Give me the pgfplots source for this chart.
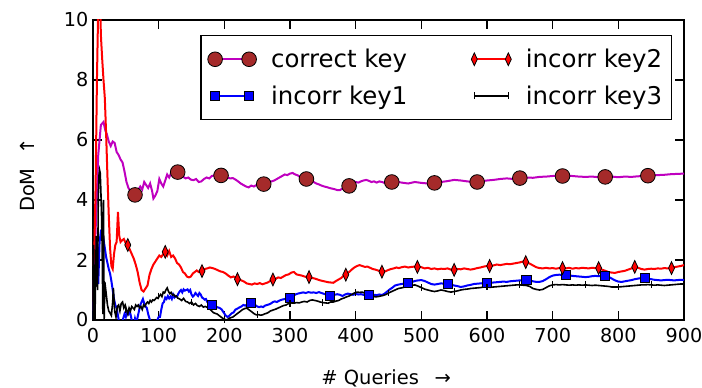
\documentclass[border=0pt]{standalone}
\usepackage{fontspec}
\setmainfont{DejaVu Sans}
\usepackage{pgfplots}
\pgfplotsset{compat=1.18}
\definecolor{mmag}{RGB}{191,0,191}
\definecolor{mbrown}{RGB}{165,42,42}
\begin{document}
\begin{tikzpicture}
\useasboundingbox (-69.75pt,-51pt) rectangle (456.75pt,240pt);
\begin{axis}[
  scale only axis, width=443.25pt, height=225pt,
  xmin=0, xmax=900, ymin=0, ymax=10,
  xtick={0,100,...,900}, ytick={0,2,...,10},
  tick align=inside, xtick pos=both, ytick pos=both,
  xticklabel pos=bottom, yticklabel pos=left,
  major tick length=7pt,
  tick style={black, line width=0.8pt},
  axis line style={black, line width=1pt},
  /pgf/number format/assume math mode=true,
  ticklabel style={font=\fontsize{14.4}{16}\selectfont},
  xticklabel style={yshift=-3pt},
  xlabel={\# Queries\hspace{0.8em}→},
  ylabel={DoM\hspace{0.7em}↑},
  label style={font=\fontsize{14.6}{17}\selectfont},
  xlabel style={at={(rel axis cs:0.496,-0.193)}, anchor=center},
  ylabel style={at={(rel axis cs:-0.11,0.483)}, anchor=center},
  legend columns=2,
  legend cell align=left,
  legend image code/.code={\draw[#1] plot coordinates {(0pt,0pt) (25.5pt,0pt)};},
  legend style={at={(rel axis cs:0.98,0.95)}, anchor=north east, draw=black, line width=1pt,
    font=\fontsize{18.3}{21}\selectfont, inner xsep=5pt, inner ysep=8pt,
    /tikz/every odd column/.append style={column sep=9pt},
    /tikz/every even column/.append style={column sep=46pt},
    /tikz/row sep=8pt},
]
% correct key
\addplot[mmag, line width=1.5pt, forget plot] coordinates {
(0,0.3)(4,3)(8,5.5)(12,6.5)(16,6.6)(19,6.3)(21,6.2)(24,5.95)(27,5.8)(30,5.95)(33,5.9)(36,5.6)(39,5.5)(42,5.35)(45,5.25)(48,4.95)(51,4.6)(54,4.4)(57,4.3)(60,4.25)(64,4.17)(68,4.3)(72,4.45)(75,4.35)(78,4.6)(81,4.5)(84,4.4)(87,4.55)(90,4.3)(92,4.05)(95,4.15)(98,4.3)(101,4.7)(104,4.55)(107,4.45)(110,4.65)(113,4.85)(116,4.75)(119,4.9)(122,4.95)(126,4.9)(129,4.93)(133,4.85)(137,4.78)(141,4.72)(145,4.75)(149,4.68)(153,4.66)(157,4.7)(161,4.6)(165,4.62)(169,4.7)(173,4.75)(177,4.72)(181,4.8)(185,4.82)(189,4.85)(193,4.83)(197,4.8)(201,4.78)(205,4.75)(209,4.72)(213,4.73)(217,4.68)(221,4.62)(225,4.55)(229,4.5)(233,4.45)(237,4.42)(241,4.48)(245,4.45)(249,4.5)(253,4.55)(257,4.52)(260,4.53)(264,4.58)(268,4.6)(272,4.62)(276,4.65)(280,4.7)(284,4.75)(288,4.8)(292,4.85)(296,4.83)(300,4.88)(304,4.9)(308,4.85)(312,4.82)(316,4.75)(320,4.72)(324,4.7)(328,4.68)(332,4.62)(336,4.6)(340,4.55)(344,4.52)(348,4.48)(352,4.45)(356,4.43)(360,4.4)(364,4.38)(368,4.36)(372,4.33)(376,4.33)(380,4.38)(384,4.42)(388,4.45)(392,4.5)(396,4.55)(400,4.6)(404,4.58)(408,4.62)(412,4.65)(416,4.67)(420,4.64)(424,4.6)(428,4.62)(432,4.58)(436,4.62)(440,4.6)(444,4.57)(448,4.6)(452,4.62)(456,4.6)(460,4.62)(470,4.58)(480,4.55)(490,4.6)(500,4.57)(510,4.55)(520,4.57)(530,4.6)(540,4.63)(550,4.67)(560,4.65)(570,4.62)(580,4.6)(590,4.62)(600,4.65)(610,4.67)(620,4.7)(630,4.72)(640,4.7)(650,4.73)(660,4.75)(670,4.74)(680,4.77)(690,4.78)(700,4.8)(710,4.8)(720,4.82)(730,4.8)(740,4.78)(750,4.77)(760,4.78)(770,4.76)(780,4.77)(790,4.78)(800,4.76)(810,4.78)(820,4.77)(830,4.79)(840,4.8)(850,4.82)(860,4.83)(870,4.84)(880,4.86)(890,4.87)(900,4.88)
};
\addplot[only marks, mark=*, mark size=5.5pt, mark options={fill=mbrown, draw=black, line width=0.6pt}, forget plot] coordinates {
(64,4.17)(129,4.93)(195,4.82)(260,4.53)(325,4.7)(390,4.47)(455,4.6)(520,4.57)(585,4.6)(650,4.73)(715,4.8)(780,4.77)(845,4.81)
};
% incorr key1
\addplot[blue, line width=1.5pt, forget plot] coordinates {
(0,0.0)(2,0.8)(4,1.8)(6,2.5)(8,1.2)(10,2.6)(12,2.95)(14,2.9)(16,2.7)(18,2.4)(20,2.1)(22,1.9)(24,1.7)(26,1.55)(28,1.3)(30,1.0)(32,0.7)(34,0.5)(36,0.4)(38,0.15)(40,-0.1)(42,-0.3)(44,-0.2)(46,0.05)(48,0.2)(50,0.1)(52,0.25)(54,0.2)(56,0.3)(58,0.1)(60,-0.1)(62,-0.2)(64,0.05)(66,-0.1)(68,0.1)(70,0.3)(72,0.5)(74,0.6)(76,0.7)(78,0.55)(80,0.45)(82,0.4)(84,0.2)(86,0.05)(88,-0.1)(90,-0.2)(92,-0.15)(94,-0.05)(96,-0.1)(98,0.0)(100,0.1)(102,0.1)(104,0.35)(106,0.55)(108,0.6)(110,0.75)(112,0.7)(114,0.8)(116,0.72)(118,0.78)(120,0.7)(122,0.85)(124,0.75)(126,0.8)(128,0.78)(130,0.88)(132,0.95)(134,1.0)(136,0.92)(138,1.02)(140,0.98)(142,1.0)(144,1.02)(146,0.95)(148,1.0)(150,0.85)(152,0.78)(154,0.82)(156,0.9)(158,0.85)(160,0.8)(162,0.9)(164,0.85)(166,0.75)(168,0.72)(170,0.68)(172,0.7)(174,0.6)(176,0.55)(178,0.52)(181,0.5)(184,0.47)(187,0.45)(190,0.42)(193,0.4)(196,0.35)(199,0.25)(202,0.15)(205,0.1)(208,0.15)(211,0.22)(214,0.25)(217,0.35)(220,0.38)(223,0.42)(226,0.45)(229,0.5)(232,0.48)(235,0.52)(238,0.55)(241,0.57)(244,0.55)(247,0.5)(250,0.45)(253,0.43)(256,0.45)(259,0.43)(262,0.48)(265,0.5)(268,0.52)(271,0.55)(274,0.6)(277,0.62)(280,0.6)(284,0.65)(288,0.68)(292,0.7)(296,0.72)(300,0.73)(304,0.78)(308,0.85)(312,0.88)(316,0.9)(320,0.92)(324,0.9)(328,0.93)(332,0.91)(336,0.92)(340,0.9)(344,0.93)(348,0.9)(352,0.87)(356,0.85)(360,0.8)(364,0.82)(368,0.84)(372,0.86)(376,0.84)(380,0.8)(384,0.85)(388,0.88)(392,0.86)(396,0.84)(400,0.87)(404,0.85)(408,0.86)(412,0.84)(416,0.85)(420,0.83)(424,0.82)(428,0.84)(432,0.83)(436,0.85)(440,0.83)(444,0.88)(448,0.95)(452,1.02)(456,1.08)(460,1.15)(465,1.18)(470,1.2)(475,1.22)(480,1.23)(485,1.26)(490,1.3)(495,1.32)(500,1.33)(505,1.3)(510,1.25)(515,1.2)(520,1.18)(525,1.2)(530,1.22)(535,1.21)(540,1.2)(545,1.18)(550,1.15)(555,1.13)(560,1.1)(565,1.12)(570,1.15)(575,1.17)(580,1.2)(585,1.21)(590,1.22)(595,1.23)(600,1.23)(605,1.24)(610,1.25)(615,1.26)(620,1.27)(625,1.28)(630,1.27)(635,1.29)(640,1.3)(645,1.31)(650,1.32)(655,1.33)(660,1.33)(665,1.31)(670,1.29)(675,1.27)(680,1.27)(685,1.3)(690,1.36)(695,1.43)(700,1.48)(705,1.5)(710,1.51)(715,1.5)(720,1.5)(725,1.49)(730,1.47)(735,1.46)(740,1.45)(745,1.44)(750,1.43)(755,1.44)(760,1.46)(765,1.47)(770,1.46)(775,1.47)(780,1.47)(785,1.44)(790,1.38)(795,1.32)(800,1.28)(805,1.27)(810,1.29)(815,1.31)(820,1.33)(825,1.36)(830,1.38)(835,1.4)(840,1.4)(845,1.38)(850,1.36)(855,1.34)(860,1.33)(865,1.32)(870,1.33)(875,1.34)(880,1.33)(885,1.32)(890,1.33)(895,1.34)(900,1.33)
};
\addplot[only marks, mark=square*, mark size=3.4pt, mark options={fill=blue, draw=black, line width=0.6pt}, forget plot] coordinates {
(181,0.5)(241,0.57)(300,0.73)(361,0.8)(420,0.83)(480,1.23)(540,1.2)(600,1.23)(660,1.33)(720,1.5)(780,1.47)(840,1.4)
};
% incorr key2
\addplot[red, line width=1.5pt, forget plot] coordinates {
(0,1.8)(2,2.3)(4,4.5)(6,8.0)(8,10.5)(10,11.5)(12,9.5)(14,8.7)(16,8.0)(18,7.4)(20,6.2)(22,4.8)(24,3.5)(26,2.4)(28,1.8)(30,1.7)(32,2.2)(34,2.5)(36,2.6)(38,3.6)(40,2.8)(42,2.6)(44,2.65)(47,2.7)(50,2.55)(53,2.5)(56,2.35)(59,2.2)(62,2.05)(65,1.85)(68,1.6)(71,1.25)(74,1.0)(77,0.95)(80,1.05)(83,1.15)(86,1.5)(89,1.7)(92,1.85)(95,1.95)(98,2.05)(101,2.15)(104,2.1)(107,2.2)(110,2.27)(113,2.15)(116,2.3)(119,2.1)(122,2.15)(125,2.05)(128,1.9)(131,1.85)(134,1.75)(137,1.6)(140,1.55)(143,1.45)(146,1.42)(149,1.45)(152,1.55)(155,1.6)(158,1.65)(161,1.6)(164,1.62)(167,1.63)(170,1.7)(174,1.72)(178,1.75)(182,1.73)(186,1.7)(190,1.66)(194,1.62)(198,1.6)(202,1.55)(206,1.48)(210,1.42)(214,1.45)(218,1.4)(222,1.35)(226,1.32)(230,1.28)(234,1.22)(238,1.2)(242,1.18)(246,1.22)(250,1.2)(254,1.23)(258,1.19)(262,1.22)(266,1.25)(270,1.3)(274,1.35)(278,1.37)(282,1.42)(286,1.4)(290,1.45)(294,1.5)(298,1.52)(302,1.58)(306,1.6)(310,1.52)(314,1.5)(318,1.48)(322,1.45)(326,1.43)(330,1.43)(334,1.4)(338,1.38)(342,1.35)(346,1.32)(350,1.3)(354,1.28)(358,1.26)(362,1.25)(366,1.24)(370,1.3)(374,1.35)(378,1.4)(382,1.48)(386,1.52)(390,1.6)(394,1.68)(398,1.75)(402,1.8)(406,1.83)(410,1.8)(414,1.77)(418,1.78)(422,1.74)(426,1.7)(430,1.68)(434,1.65)(438,1.62)(442,1.6)(446,1.63)(450,1.67)(454,1.7)(458,1.72)(462,1.75)(466,1.73)(470,1.76)(475,1.78)(480,1.75)(485,1.77)(490,1.78)(495,1.77)(500,1.76)(505,1.72)(510,1.74)(515,1.7)(520,1.72)(525,1.69)(530,1.71)(535,1.7)(540,1.72)(545,1.68)(550,1.67)(555,1.7)(560,1.69)(565,1.72)(570,1.7)(575,1.68)(580,1.7)(585,1.73)(590,1.75)(595,1.78)(600,1.8)(605,1.8)(610,1.82)(615,1.85)(620,1.83)(625,1.85)(630,1.87)(635,1.86)(640,1.88)(645,1.9)(650,1.92)(655,1.95)(660,1.93)(665,1.88)(670,1.82)(675,1.76)(680,1.73)(685,1.72)(690,1.74)(695,1.72)(700,1.73)(705,1.71)(710,1.73)(715,1.73)(720,1.72)(725,1.74)(730,1.71)(735,1.73)(740,1.72)(745,1.74)(750,1.73)(755,1.72)(760,1.74)(765,1.73)(770,1.73)(775,1.68)(780,1.64)(785,1.6)(790,1.58)(795,1.57)(800,1.6)(805,1.62)(810,1.64)(815,1.68)(820,1.72)(825,1.77)(830,1.74)(835,1.7)(840,1.68)(845,1.7)(850,1.71)(855,1.7)(860,1.72)(865,1.71)(870,1.73)(875,1.72)(880,1.73)(885,1.76)(890,1.78)(895,1.8)(900,1.83)
};
\addplot[only marks, mark=diamond*, mark size=4.8pt, mark options={xscale=0.62, fill=red, draw=black, line width=0.6pt}, forget plot] coordinates {
(53,2.5)(110,2.27)(166,1.63)(220,1.36)(274,1.35)(329,1.43)(385,1.51)(440,1.61)(494,1.77)(550,1.67)(604,1.8)(659,1.93)(715,1.73)(770,1.73)(825,1.77)(881,1.73)
};
% incorr key3
\addplot[black, line width=1.2pt, forget plot] coordinates {
(0,0.0)(1,2.5)(2,0.5)(3,0.0)(4,1.5)(5,2.8)(6,2.6)(7,1.0)(8,4.0)(9,4.8)(10,5.0)(11,4.9)(12,4.3)(13,3.5)(14,2.4)(15,0.2)(16,4.0)(17,0.0)(18,1.27)(20,0.9)(22,0.5)(24,0.3)(26,0.23)(28,0.15)(30,0.6)(31,1.07)(33,0.3)(35,0.1)(37,0.45)(39,0.5)(41,0.3)(43,0.55)(45,0.6)(47,0.4)(49,0.5)(51,0.35)(53,0.2)(55,0.4)(57,0.3)(59,0.45)(61,0.4)(63,0.35)(65,0.5)(67,0.45)(69,0.5)(71,0.4)(73,0.45)(75,0.35)(77,0.5)(79,0.45)(81,0.55)(83,0.6)(85,0.55)(87,0.65)(89,0.6)(91,0.67)(93,0.65)(95,0.7)(97,0.75)(99,0.72)(101,0.8)(103,0.85)(105,0.78)(107,0.93)(109,0.9)(111,1.0)(113,1.07)(115,0.95)(117,0.88)(119,0.92)(121,0.83)(123,0.85)(125,0.78)(127,0.8)(129,0.73)(132,0.7)(135,0.65)(138,0.72)(141,0.62)(144,0.6)(147,0.55)(150,0.6)(153,0.5)(156,0.55)(159,0.48)(162,0.45)(165,0.5)(168,0.43)(171,0.45)(174,0.42)(177,0.38)(180,0.32)(183,0.25)(186,0.22)(189,0.2)(192,0.15)(195,0.1)(198,0.05)(201,0.02)(204,0.0)(207,0.05)(210,0.08)(213,0.1)(216,0.15)(219,0.2)(222,0.25)(225,0.3)(228,0.35)(231,0.38)(234,0.4)(237,0.35)(240,0.3)(243,0.25)(246,0.2)(249,0.17)(252,0.18)(255,0.16)(258,0.17)(261,0.2)(264,0.22)(267,0.25)(270,0.3)(274,0.33)(278,0.36)(282,0.4)(286,0.44)(290,0.48)(294,0.5)(298,0.55)(302,0.57)(306,0.56)(310,0.58)(314,0.57)(318,0.6)(322,0.62)(326,0.6)(330,0.65)(334,0.67)(338,0.65)(342,0.63)(346,0.6)(350,0.58)(354,0.57)(358,0.56)(362,0.6)(366,0.6)(370,0.63)(374,0.65)(378,0.7)(382,0.73)(386,0.77)(390,0.8)(394,0.85)(398,0.9)(402,0.93)(406,0.92)(410,0.93)(414,0.9)(418,0.87)(422,0.82)(426,0.8)(430,0.77)(434,0.78)(438,0.8)(442,0.82)(446,0.85)(450,0.9)(455,0.95)(460,1.0)(465,1.05)(470,1.07)(475,1.1)(480,1.12)(485,1.15)(490,1.17)(495,1.13)(500,1.08)(505,1.03)(510,1.0)(515,0.97)(520,0.95)(525,0.97)(530,1.0)(535,0.98)(540,0.95)(545,0.93)(550,0.95)(555,0.97)(560,1.0)(565,1.02)(570,1.03)(575,1.05)(580,1.06)(585,1.07)(590,1.08)(595,1.1)(600,1.1)(605,1.09)(610,1.1)(615,1.11)(620,1.12)(625,1.13)(630,1.14)(635,1.15)(640,1.16)(645,1.17)(650,1.17)(655,1.16)(660,1.15)(665,1.12)(670,1.05)(675,1.02)(680,1.0)(685,1.02)(690,1.08)(695,1.14)(700,1.17)(705,1.18)(710,1.17)(715,1.18)(720,1.17)(725,1.16)(730,1.17)(735,1.16)(740,1.17)(745,1.16)(750,1.17)(755,1.16)(760,1.15)(765,1.16)(770,1.15)(775,1.14)(780,1.13)(785,1.12)(790,1.1)(795,1.1)(800,1.1)(805,1.11)(810,1.12)(815,1.13)(820,1.14)(825,1.15)(830,1.16)(835,1.17)(840,1.17)(845,1.18)(850,1.17)(855,1.16)(860,1.17)(865,1.16)(870,1.15)(875,1.16)(880,1.17)(885,1.18)(890,1.19)(895,1.2)(900,1.2)
};
\addplot[only marks, mark=|, mark size=2.6pt, mark options={black, line width=0.8pt}, forget plot] coordinates {
(50,0.35)(100,0.8)(150,0.6)(200,0.02)(250,0.17)(300,0.56)(350,0.58)(400,0.92)(450,0.9)(500,1.08)(550,0.95)(600,1.1)(650,1.17)(700,1.17)(750,1.17)(800,1.1)(850,1.17)(900,1.2)
};
% legend
\addlegendimage{mmag, line width=1.5pt, mark=*, mark size=5.5pt, mark options={fill=mbrown, draw=black, line width=0.6pt}}
\addlegendentry{correct key}
\addlegendimage{red, line width=1.5pt, mark=diamond*, mark size=4.8pt, mark options={xscale=0.62, fill=red, draw=black, line width=0.6pt}}
\addlegendentry{incorr key2}
\addlegendimage{blue, line width=1.5pt, mark=square*, mark size=3.4pt, mark options={fill=blue, draw=black, line width=0.6pt}}
\addlegendentry{incorr key1}
\addlegendimage{black, line width=1.2pt, mark=|, mark size=2.6pt, mark options={black, line width=0.8pt}}
\addlegendentry{incorr key3}
\end{axis}
\end{tikzpicture}
\end{document}
